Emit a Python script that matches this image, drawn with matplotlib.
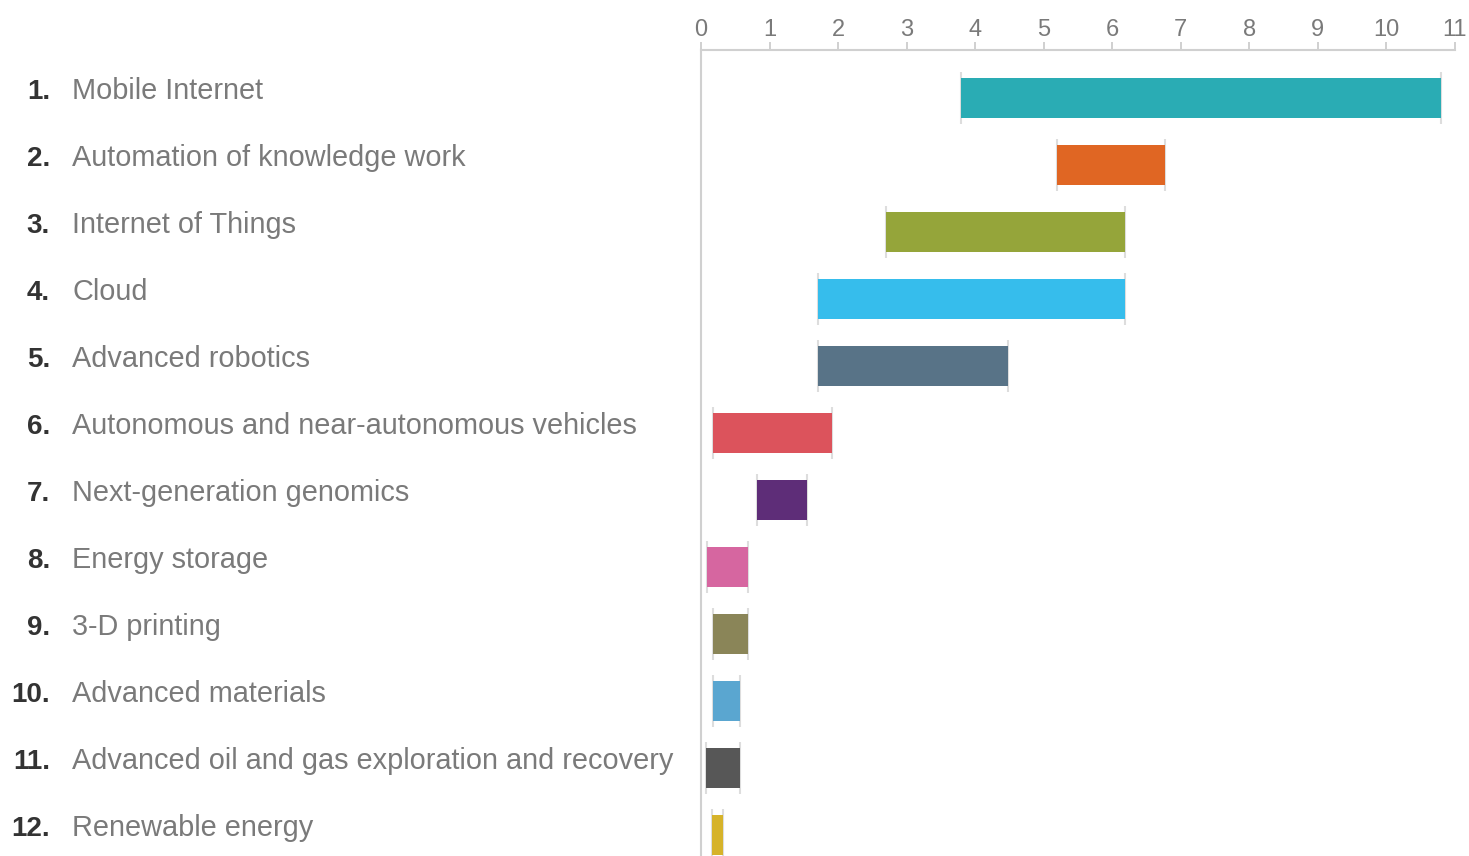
import matplotlib
matplotlib.use("Agg")
import matplotlib.pyplot as plt
import matplotlib.transforms as mtransforms

categories = [
    "Mobile Internet",
    "Automation of knowledge work",
    "Internet of Things",
    "Cloud",
    "Advanced robotics",
    "Autonomous and near-autonomous vehicles",
    "Next-generation genomics",
    "Energy storage",
    "3-D printing",
    "Advanced materials",
    "Advanced oil and gas exploration and recovery",
    "Renewable energy",
]
low_values = [3.8, 5.2, 2.7, 1.7, 1.7, 0.17, 0.82, 0.09, 0.18, 0.18, 0.07, 0.16]
high_values = [10.8, 6.77, 6.18, 6.18, 4.48, 1.91, 1.55, 0.69, 0.69, 0.57, 0.57, 0.32]
colors = ["#2aacb4", "#e06623", "#95a53a", "#36bdec", "#587387", "#dc535c",
          "#5e2d78", "#d666a0", "#8a8558", "#5aa6d0", "#575757", "#d6b32a"]
xticks = list(range(0, 12))

fig = plt.figure(figsize=(14.69, 8.56), dpi=100)
ax = fig.add_axes([701 / 1469, 0.0, (1455 - 701) / 1469, 1 - 50 / 856])

ypos = list(range(len(categories)))
widths = [h - l for l, h in zip(low_values, high_values)]

# end caps (light gray vertical lines)
for y, l, h in zip(ypos, low_values, high_values):
    for x in (l, h):
        ax.plot([x, x], [y - 0.39, y + 0.39], color="#dddddd", lw=1.5,
                zorder=1, solid_capstyle="butt")

ax.barh(ypos, widths, left=low_values, height=0.6, color=colors, zorder=2)

ax.set_xlim(0, 11)
ax.set_ylim(11.31, -0.72)

ax.xaxis.tick_top()
ax.set_xticks(xticks)
ax.set_xticklabels([str(t) for t in xticks], fontsize=17, color="#7a7a7a",
                   family="Liberation Sans")
ax.tick_params(axis="x", direction="out", length=6, width=1.2, color="#c8c8c8", pad=0.5)
ax.set_yticks([])

for side in ("right", "bottom"):
    ax.spines[side].set_visible(False)
for side in ("top", "left"):
    ax.spines[side].set_color("#d0d0d0")
    ax.spines[side].set_linewidth(1.5)

trans = mtransforms.blended_transform_factory(fig.transFigure, ax.transData)
for i, name in enumerate(categories):
    ax.text(50 / 1469, i + 0.01, f"{i + 1}.", transform=trans, ha="right",
            va="baseline", fontsize=20, fontweight="bold", color="#333333",
            family="Liberation Sans", clip_on=False)
    ax.text(72 / 1469, i + 0.01, name, transform=trans, ha="left",
            va="baseline", fontsize=20.8, color="#7a7a7a",
            family="Liberation Sans", clip_on=False)

fig.savefig("out.png", dpi=100)
